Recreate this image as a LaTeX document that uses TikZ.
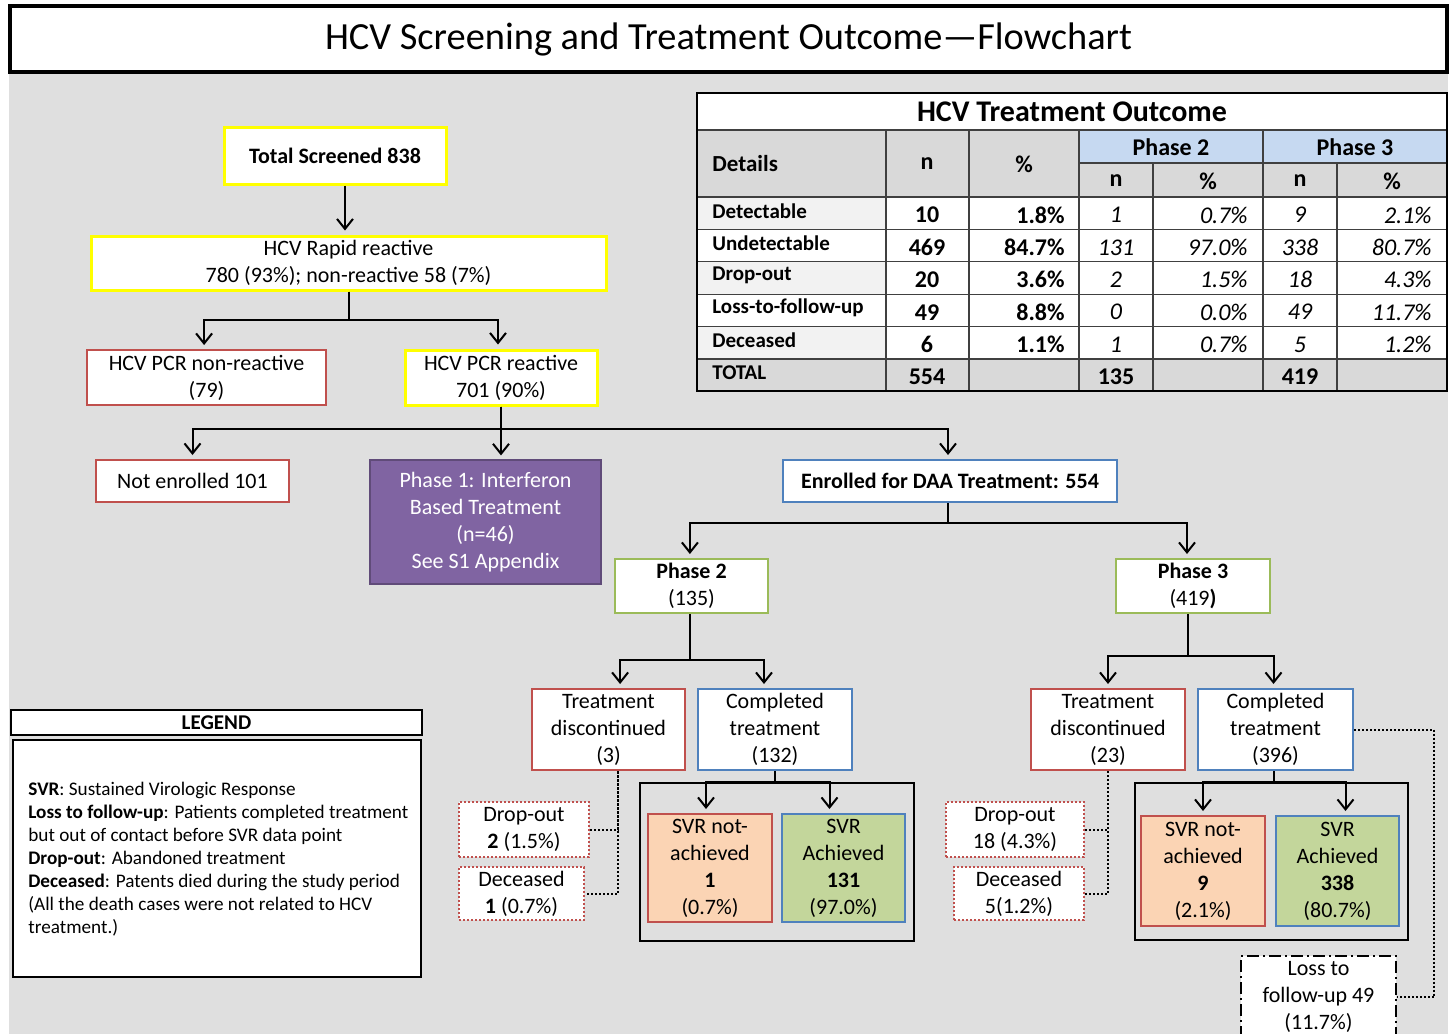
\documentclass[tikz,border=0pt]{standalone}
\usepackage{fontspec}
\setmainfont{Carlito}
\usetikzlibrary{arrows.meta}

\definecolor{bggray}{RGB}{223,223,223}
\definecolor{hdgray}{RGB}{217,217,217}
\definecolor{rowgray}{RGB}{242,242,242}
\definecolor{hdblue}{RGB}{198,217,241}
\definecolor{hcvyellow}{RGB}{255,255,0}
\definecolor{hcvred}{RGB}{192,80,77}
\definecolor{hcvblue}{RGB}{79,129,189}
\definecolor{hcvgreen}{RGB}{155,187,89}
\definecolor{hcvpurple}{RGB}{128,100,162}
\definecolor{peach}{RGB}{251,212,180}
\definecolor{svrgreen}{RGB}{195,214,155}

\tikzset{
  box/.style={draw, fill=white, align=center, inner sep=0pt, line width=1pt,
    font=\fontsize{11}{13.5}\selectfont},
  ybox/.style={box, draw=hcvyellow, line width=1.5pt},
  rbox/.style={box, draw=hcvred},
  bbox/.style={box, draw=hcvblue},
  gbox/.style={box, draw=hcvgreen},
  dbox/.style={box, draw=hcvred, densely dotted},
  arr/.style={-{Straight Barb[length=5pt,width=8pt]}, line width=1pt, shorten >=2pt},
  dots/.style={densely dotted, line width=1pt},
  grid/.style={draw=black!75, line width=0.6pt},
  lab/.style={anchor=west, inner sep=0pt, font=\bfseries\fontsize{10.5}{12}\selectfont},
  num/.style={inner sep=0pt, font=\bfseries\fontsize{12}{14}\selectfont},
  inum/.style={inner sep=0pt, font=\itshape\fontsize{12}{14}\selectfont},
}

\begin{document}
\begin{tikzpicture}[x=0.5pt,y=-0.5pt]
  \useasboundingbox (0,0) rectangle (1452,1034);
  \fill[white] (0,0) rectangle (1452,1034);
  \fill[bggray] (9,72) rectangle (1448,1034);

  % title
  \node[draw, fill=white, line width=2pt, minimum width=718.5pt, minimum height=33pt,
    inner sep=0pt, font=\fontsize{19.2}{21}\selectfont] (title) at (728.5,39)
    {HCV Screening and Treatment Outcome—Flowchart};

  % table
  \fill[white] (697,93) rectangle (1447,130);
  \fill[hdgray] (697,130) rectangle (1079,197);
  \fill[hdblue] (1079,130) rectangle (1447,163);
  \fill[hdgray] (1079,163) rectangle (1447,197);
  \fill[white] (697,197) rectangle (1447,359);
  \foreach \r in {0,2,4}
    \fill[rowgray] (697,197+32.4*\r) rectangle (886,229.4+32.4*\r);
  \fill[hdgray] (697,359) rectangle (1447,391);
  \draw[grid] (697,130) -- (1447,130);
  \draw[grid] (1079,163) -- (1447,163);
  \foreach \r in {0,...,5}
    \draw[grid] (697,197+32.4*\r) -- (1447,197+32.4*\r);
  \foreach \x in {886,969,1079,1263}
    \draw[grid] (\x,130) -- (\x,391);
  \foreach \x in {1153,1337}
    \draw[grid] (\x,163) -- (\x,391);
  \draw[line width=1pt] (697,93) rectangle (1447,391);

  \node[font=\bfseries\fontsize{15}{17}\selectfont] (tabtitle) at (1072,112) {HCV Treatment Outcome};
  \node[lab, font=\bfseries\fontsize{11.5}{13}\selectfont] (hdetails) at (712,164) {Details};
  \node[num] (hn) at (927,164) {n};
  \node[num] (hp) at (1024,164) {\%};
  \node[num] (hphtwo) at (1171,147) {Phase 2};
  \node[num] (hphthree) at (1355,147) {Phase 3};
  \node[num] (hna) at (1116,181) {n};
  \node[num] (hpa) at (1208,181) {\%};
  \node[num] (hnb) at (1300,181) {n};
  \node[num] (hpb) at (1392,181) {\%};

  \foreach \lab/\nn/\pp/\na/\pa/\nb/\pb [count=\i from 0] in
    {Detectable/10/1.8/1/0.7/9/2.1, Undetectable/469/84.7/131/97.0/338/80.7,
     Drop-out/20/3.6/2/1.5/18/4.3, Loss-to-follow-up/49/8.8/0/0.0/49/11.7,
     Deceased/6/1.1/1/0.7/5/1.2}{
    \node[lab] (lab\i) at (712,211+32.4*\i) {\lab};
    \node[num] (n\i) at (927,215+32.4*\i) {\nn};
    \node[num, anchor=east] (p\i) at (1065,215+32.4*\i) {\pp\%};
    \node[inum] (na\i) at (1116,215+32.4*\i) {\na};
    \node[inum, anchor=east] (pa\i) at (1248,215+32.4*\i) {\pa\%};
    \node[inum] (nb\i) at (1300,215+32.4*\i) {\nb};
    \node[inum, anchor=east] (pb\i) at (1432,215+32.4*\i) {\pb\%};
  }
  \node[lab] (labtot) at (712,373) {TOTAL};
  \node[num] (ntot) at (927,377) {554};
  \node[num] (natot) at (1116,377) {135};
  \node[num] (nbtot) at (1300,377) {419};

  % screening
  \node[ybox, minimum width=111pt, minimum height=28.5pt, font=\bfseries\fontsize{11}{13.5}\selectfont]
    (total) at (335,155.5) {Total Screened 838};
  \node[ybox, minimum width=257.5pt, minimum height=27pt] (rapid) at (348.5,263)
    {HCV Rapid reactive\\780 (93\%); non-reactive 58 (7\%)};
  \node[rbox, minimum width=119.5pt, minimum height=27.5pt] (pcrneg) at (206.5,377.5)
    {HCV PCR non-reactive\\(79)};
  \node[ybox, minimum width=96pt, minimum height=27.5pt] (pcrpos) at (501,377.5)
    {HCV PCR reactive\\701 (90\%)};
  \node[rbox, minimum width=96.5pt, minimum height=21pt] (notenr) at (192.5,481) {Not enrolled 101};
  \node[box, fill=hcvpurple, draw=hcvpurple!75!black, line width=0.6pt, text=white,
    minimum width=115.5pt, minimum height=62pt] (phaseone) at (485.5,522)
    {Phase 1: Interferon\\Based Treatment\\(n=46)\\See S1 Appendix};
  \node[bbox, minimum width=167pt, minimum height=21pt, font=\bfseries\fontsize{11}{13.5}\selectfont]
    (enrolled) at (950,481) {Enrolled for DAA Treatment: 554};

  \draw[arr] ([xshift=5pt]total.south) -- ([xshift=5pt]total.south |- rapid.north);
  \draw[arr] (rapid.south) -- ++(0,28) -| ([xshift=-1.2pt]pcrneg.north);
  \draw[arr] (rapid.south) -- ++(0,28) -| ([xshift=-1.5pt]pcrpos.north);
  \draw[arr] (pcrpos.south) -- ++(0,22) -| (notenr.north);
  \draw[arr] (pcrpos.south) -- (pcrpos.south |- phaseone.north);
  \draw[arr] (pcrpos.south) -- ++(0,22) -| ([xshift=-1pt]enrolled.north);

  % phases
  \node[gbox, minimum width=76.5pt, minimum height=27pt] (phasetwo) at (691.5,586)
    {\textbf{Phase 2}\\(135)};
  \node[gbox, minimum width=77pt, minimum height=27pt] (phasethree) at (1193,586)
    {\textbf{Phase 3}\\(419\textbf{)}};
  \draw[arr] ([xshift=-1pt]enrolled.south) -- ++(0,20) -| ([xshift=-0.8pt]phasetwo.north);
  \draw[arr] ([xshift=-1pt]enrolled.south) -- ++(0,20) -| ([xshift=-3pt]phasethree.north);

  % phase 2 branch
  \node[rbox, minimum width=76.5pt, minimum height=40.5pt] (disctwo) at (608.5,729.5)
    {Treatment\\discontinued\\(3)};
  \node[bbox, minimum width=77pt, minimum height=40.5pt] (comptwo) at (775,729.5)
    {Completed\\treatment\\(132)};
  \node[draw, line width=1pt, minimum width=137pt, minimum height=79pt, inner sep=0pt]
    (svrtwo) at (777,862) {};
  \node[box, draw=hcvred, fill=peach, minimum width=62pt, minimum height=54pt] (nottwo)
    at (710,868) {SVR not-\\achieved\\\textbf{1}\\(0.7\%)};
  \node[box, draw=hcvblue, fill=svrgreen, minimum width=61.5pt, minimum height=54pt] (achtwo)
    at (843.5,868) {SVR\\Achieved\\\textbf{131}\\(97.0\%)};
  \node[dbox, minimum width=65pt, minimum height=27.5pt] (droptwo) at (524,829.5)
    {Drop-out\\\textbf{2} (1.5\%)};
  \node[dbox, minimum width=62.5pt, minimum height=26.5pt] (deadtwo) at (521.5,893.5)
    {Deceased\\\textbf{1} (0.7\%)};

  \draw[arr] ([xshift=-1pt]phasetwo.south) -- ++(0,46) -| ([xshift=5.8pt]disctwo.north);
  \draw[arr] ([xshift=-1pt]phasetwo.south) -- ++(0,46) -| ([xshift=-5.5pt]comptwo.north);
  \draw[arr] (comptwo.south) -- (comptwo.south |- svrtwo.north) -| ([xshift=-2pt]nottwo.north);
  \draw[arr] (comptwo.south) -- (comptwo.south |- svrtwo.north) -| ([xshift=-7pt]achtwo.north);
  \draw[dots] ([xshift=4.8pt]disctwo.south) |- (deadtwo.east);
  \draw[dots] (droptwo.east) -| ([xshift=4.8pt]disctwo.south);

  % phase 3 branch
  \node[rbox, minimum width=77pt, minimum height=40.5pt] (discthree) at (1108,729.5)
    {Treatment\\discontinued\\(23)};
  \node[bbox, minimum width=77.5pt, minimum height=40.5pt] (compthree) at (1275.5,729.5)
    {Completed\\treatment\\(396)};
  \node[draw, line width=1pt, minimum width=136.5pt, minimum height=78.5pt, inner sep=0pt]
    (svrthree) at (1271.5,861.5) {};
  \node[box, draw=hcvred, fill=peach, minimum width=62pt, minimum height=55pt] (notthree)
    at (1203,871) {SVR not-\\achieved\\\textbf{9}\\(2.1\%)};
  \node[box, draw=hcvblue, fill=svrgreen, minimum width=61.5pt, minimum height=55pt] (achthree)
    at (1337.5,871) {SVR\\Achieved\\\textbf{338}\\(80.7\%)};
  \node[dbox, minimum width=69pt, minimum height=27.5pt] (dropthree) at (1015,829.5)
    {Drop-out\\18 (4.3\%)};
  \node[dbox, minimum width=65pt, minimum height=26.5pt] (deadthree) at (1019,893.5)
    {Deceased\\5(1.2\%)};
  \node[box, draw=black, line width=0.8pt, dash pattern=on 6pt off 2pt on 1pt off 2pt,
    minimum width=77.5pt, minimum height=41pt] (loss) at (1318.5,997)
    {Loss to\\follow-up 49\\(11.7\%)};

  \draw[arr] ([xshift=-2.5pt]phasethree.south) -- ++(0,42) -| (discthree.north);
  \draw[arr] ([xshift=-2.5pt]phasethree.south) -- ++(0,42) -| ([xshift=-1pt]compthree.north);
  \draw[arr] ([xshift=-1pt]compthree.south) -- ([xshift=-1pt]compthree.south |- svrthree.north) -| (notthree.north);
  \draw[arr] ([xshift=-1pt]compthree.south) -- ([xshift=-1pt]compthree.south |- svrthree.north) -| ([xshift=4pt]achthree.north);
  \draw[dots] (discthree.south) |- (deadthree.east);
  \draw[dots] (dropthree.east) -| (discthree.south);
  \draw[dots] (compthree.east) -- ++(80,0) |- (loss.east);

  % legend
  \node[draw, fill=white, line width=1pt, minimum width=205.5pt, minimum height=12.5pt, inner sep=0pt,
    font=\bfseries\fontsize{10.5}{12}\selectfont] (leghead) at (216.5,722.5) {LEGEND};
  \node[draw, fill=white, line width=1pt, minimum width=204pt, minimum height=118.5pt, inner sep=0pt]
    (legbody) at (217,858.5) {};
  \node[anchor=west, align=left, inner sep=0pt, font=\fontsize{9.6}{11.5}\selectfont] (legtext) at (28,859)
    {\textbf{SVR}: Sustained Virologic Response\\
     \textbf{Loss to follow-up}: Patients completed treatment\\
     but out of contact before SVR data point\\
     \textbf{Drop-out}: Abandoned treatment\\
     \textbf{Deceased}: Patents died during the study period\\
     (All the death cases were not related to HCV\\
     treatment.)};
\end{tikzpicture}
\end{document}
